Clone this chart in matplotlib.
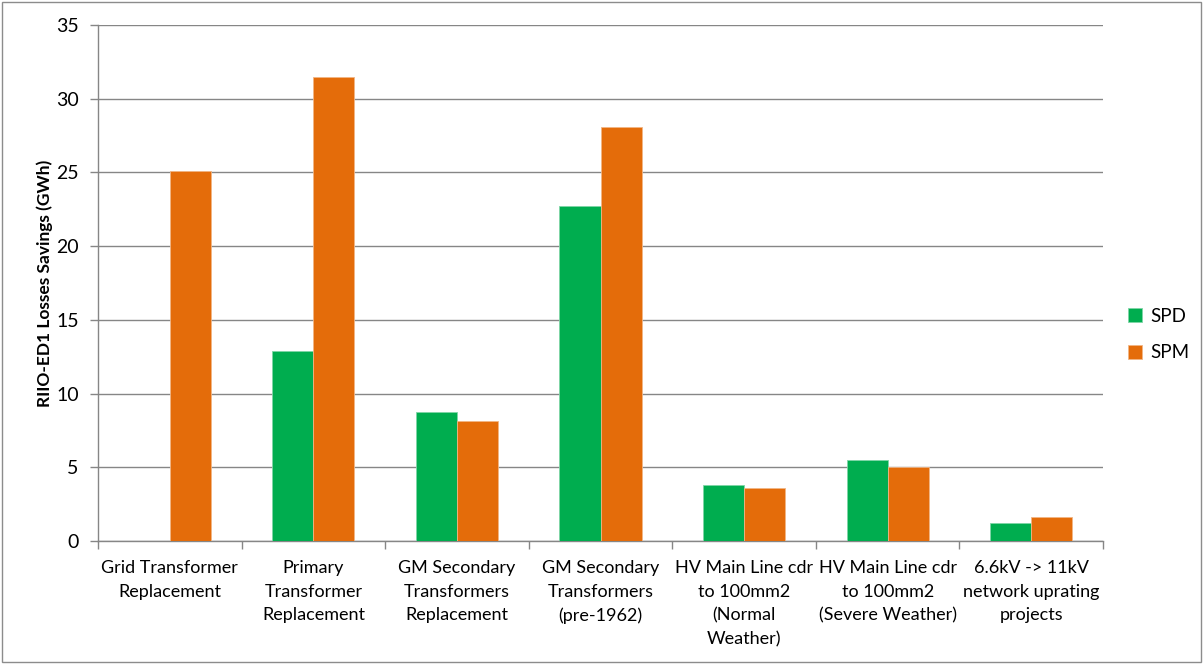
import matplotlib
matplotlib.use("Agg")
import matplotlib.pyplot as plt
import numpy as np
from matplotlib.patches import Rectangle

plt.rcParams['font.family'] = ['Lato', 'DejaVu Sans']

categories = [
    "Grid Transformer\nReplacement",
    "Primary\nTransformer\nReplacement",
    "GM Secondary\nTransformers\nReplacement",
    "GM Secondary\nTransformers\n(pre-1962)",
    "HV Main Line cdr\nto 100mm2\n(Normal\nWeather)",
    "HV Main Line cdr\nto 100mm2\n(Severe Weather)",
    "6.6kV -> 11kV\nnetwork uprating\nprojects",
]
spd = [0.0, 12.9, 8.77, 22.7, 3.8, 5.47, 1.2]
spm = [25.1, 31.5, 8.14, 28.1, 3.62, 5.0, 1.61]
y_ticks = [0, 5, 10, 15, 20, 25, 30, 35]

green = "#00AD4F"
orange = "#E46C0A"
grid_c = "#868686"

fig = plt.figure(figsize=(12.03, 6.64), dpi=100)
fig.patches.append(Rectangle((0.002, 0.003), 0.996, 0.994, transform=fig.transFigure,
                             fill=False, edgecolor="#8c8c8c", linewidth=1.0))
ax = fig.add_axes([0.0815, 0.1852, 0.8354, 0.7771])

x = np.arange(len(categories))
w = 0.286
ax.bar(x - w / 2, spd, width=w, color=green, edgecolor="#7fd6a7", linewidth=0.6,
       label="SPD", zorder=3)
ax.bar(x + w / 2, spm, width=w, color=orange, edgecolor="#f1b584", linewidth=0.6,
       label="SPM", zorder=3)

ax.set_xlim(-0.5, len(categories) - 0.5)
ax.set_ylim(0, 35)
ax.set_yticks(y_ticks)
ax.tick_params(axis='y', labelsize=14, colors=grid_c, labelcolor="black",
               length=6, width=1, pad=8)
ax.yaxis.grid(True, color=grid_c, linewidth=1.0, zorder=0)
ax.set_axisbelow(True)

# category labels centred under each group; ticks on group boundaries
ax.set_xticks(np.arange(len(categories) + 1) - 0.5)
ax.set_xticklabels([])
ax.tick_params(axis='x', colors=grid_c, length=6, width=1)
for i, lab in enumerate(categories):
    ax.text(i, -0.036, lab, transform=ax.get_xaxis_transform(), ha='center',
            va='top', fontsize=13, linespacing=1.61)

for side in ("top", "right"):
    ax.spines[side].set_visible(False)
for side in ("left", "bottom"):
    ax.spines[side].set_color(grid_c)
    ax.spines[side].set_linewidth(1.0)

ax.set_ylabel("RIIO-ED1 Losses Savings (GWh)", fontsize=12.5, fontweight='bold',
              labelpad=2)

ax.legend(loc='center left', bbox_to_anchor=(1.008, 0.40), frameon=False,
          fontsize=13.5, handlelength=0.75, handleheight=0.75, labelspacing=1.05,
          handletextpad=0.45)

fig.savefig("out.png", dpi=100)
